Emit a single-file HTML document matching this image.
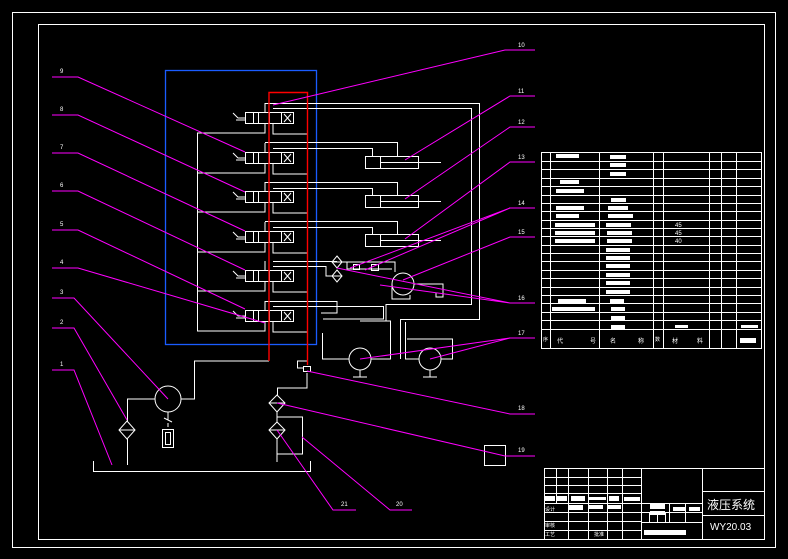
<!DOCTYPE html>
<html><head><meta charset="utf-8"><style>
html,body{margin:0;padding:0;background:#000;}
svg{display:block;}
text{font-family:"Liberation Sans","Noto Sans CJK SC",sans-serif;fill:#fff;}
</style></head><body>
<svg width="788" height="559" viewBox="0 0 788 559" xmlns="http://www.w3.org/2000/svg">
<rect width="788" height="559" fill="#000"/>
<g fill="none" stroke="#fff" stroke-width="1">
<rect x="12.5" y="12.5" width="763" height="535"/>
<rect x="38.5" y="24.5" width="726" height="515"/>
</g>
<!-- blue box -->
<rect x="165.5" y="70.5" width="151" height="274" fill="none" stroke="#1a5cff" stroke-width="1.3"/>
<!-- white circuit -->
<g fill="none" stroke="#fff" stroke-width="1">
<!-- valves -->
<g id="v">
<rect x="245.5" y="112.5" width="48" height="11"/>
<line x1="253.5" y1="112" x2="253.5" y2="123"/>
<line x1="258.5" y1="112" x2="258.5" y2="123"/>
<line x1="269.5" y1="112" x2="269.5" y2="123"/>
<line x1="281.5" y1="112" x2="281.5" y2="123"/>
<path d="M284 114 L291 122 M291 114 L284 122"/>
<path d="M233 113 L238 118 L245 118 M236 120 L245 120"/>
<path d="M265 123 L265 133 L197 133 M273 123 L273 134 L307 134 M265 112 L265 103"/>
</g>
<use href="#v" y="40"/><use href="#v" y="79"/><use href="#v" y="119"/><use href="#v" y="158"/><use href="#v" y="198"/>
<line x1="197.5" y1="133" x2="197.5" y2="331"/>
<!-- top supply to cylinders -->
<path d="M265 103.5 H479.5 V319.5 H400.5 V359"/>
<path d="M273 108.5 H471.5 V304.5 H386 V321 H360"/>
<path d="M265 142.5 H397.5 V156 M273 148.5 H372.5 V156"/>
<path d="M265 182.5 H397.5 V195 M273 188.5 H372.5 V195"/>
<path d="M265 221.5 H397.5 V234 M273 227.5 H372.5 V234"/>
<rect x="365.5" y="156.5" width="53" height="12"/><line x1="380.5" y1="156" x2="380.5" y2="168"/><line x1="380" y1="162.5" x2="441" y2="162.5"/>
<rect x="365.5" y="195.5" width="53" height="12"/><line x1="380.5" y1="195" x2="380.5" y2="207"/><line x1="380" y1="201.5" x2="441" y2="201.5"/>
<rect x="365.5" y="234.5" width="53" height="12"/><line x1="380.5" y1="234" x2="380.5" y2="246"/><line x1="380" y1="240.5" x2="441" y2="240.5"/>
<!-- valve 5 outputs -->
<path d="M273 261.5 H337 M273 266.5 H326 V276 H337"/>
<path d="M337 256 L342 262 L337 268 L332 262 Z M332 262 H342"/>
<path d="M337 270 L342 276 L337 282 L332 276 Z M332 276 H342"/>
<path d="M342 262 H395 V272 M347 262 V269 H392"/>
<rect x="353.5" y="264.5" width="6" height="5"/><rect x="371.5" y="264.5" width="7" height="6"/>
<circle cx="403" cy="284" r="11"/>
<path d="M392 284 V299 H410 V295 M414 284 H443 V297 H436 V293"/>
<path d="M265 301.5 H337 V313 H321 M273 306.5 H383.5 V319 H323"/>
<!-- motors -->
<path d="M322.5 333 V359 H349 M371 359 H390.5 V321 H384"/>
<circle cx="360" cy="359" r="11"/><path d="M360 370 V377 M353 377 H367"/>
<path d="M405.5 322 V359 H419 M441 359 H452.5 V339 H407"/>
<circle cx="430" cy="359" r="11"/><path d="M430 370 V377 M423 377 H437"/>
<!-- pump and lower -->
<path d="M269 361 H194.5 V399 H181"/>
<circle cx="168" cy="399" r="13"/>
<path d="M155 399 H127.5 V421 M127.5 439 V465"/>
<path d="M127 421 L135 430 L127 439 L119 430 Z M119 430 H135"/>
<path d="M168 412 V420 M164 418 L172 422 M168 423 V427"/>
<rect x="162.5" y="429.5" width="11" height="18"/><rect x="165.5" y="432.5" width="5" height="12"/>
<path d="M93.5 461 V471.5 H310.5 V461"/>
<!-- right lower -->
<path d="M307 361 H297.5 V368 H303 M307 373 V388 H277.5 V395"/>
<rect x="303.5" y="366.5" width="7" height="5"/>
<path d="M277 395 L285 403 L277 412 L269 403 Z M269 403 H285"/>
<path d="M277 412 V422 M277 417 H302.5 V454 H277"/>
<path d="M277 422 L285 430 L277 439 L269 430 Z M269 430 H285"/>
<path d="M277 439 V462"/>
<rect x="484.5" y="445.5" width="21" height="20"/>
</g>
<!-- red -->
<path d="M269 361 V92.5 H307.5 V365" fill="none" stroke="#f00" stroke-width="1.4"/>
<!-- magenta leaders -->
<g fill="none" stroke="#f0f" stroke-width="1">
<path d="M52 77 H78 L245 152"/>
<path d="M52 115 H78 L245 192"/>
<path d="M52 153 H78 L245 231"/>
<path d="M52 191 H78 L245 270"/>
<path d="M52 230 H78 L245 309"/>
<path d="M52 268 H78 L265 323"/>
<path d="M52 298 H74 L168 399"/>
<path d="M52 328 H74 L127 420"/>
<path d="M52 370 H74 L112 465"/>
<path d="M535 50 H505 L273 105"/>
<path d="M535 96 H510 L405 160"/>
<path d="M535 127 H510 L405 199"/>
<path d="M535 162 H510 L405 239"/>
<path d="M535 208 H510 L350 268 M510 208 L365 270"/>
<path d="M535 237 H510 L403 280"/>
<path d="M535 303 H510 L337 268 M510 303 L380 285"/>
<path d="M535 338 H510 L360 359 M510 338 L430 359"/>
<path d="M535 414 H510 L307 371"/>
<path d="M535 456 H505 L277 403"/>
<path d="M356 510 H333 L277 430"/>
<path d="M412 510 H390 L302 437"/>
</g>
<g font-size="6">
<text x="60" y="73">9</text><text x="60" y="111">8</text><text x="60" y="149">7</text><text x="60" y="187">6</text><text x="60" y="226">5</text><text x="60" y="264">4</text><text x="60" y="294">3</text><text x="60" y="324">2</text><text x="60" y="366">1</text>
<text x="518" y="47">10</text><text x="518" y="93">11</text><text x="518" y="124">12</text><text x="518" y="159">13</text><text x="518" y="205">14</text><text x="518" y="234">15</text><text x="518" y="300">16</text><text x="518" y="335">17</text><text x="518" y="410">18</text><text x="518" y="452">19</text><text x="396" y="506">20</text><text x="341" y="506">21</text>
</g>
<!-- parts table -->
<g fill="none" stroke="#fff" stroke-width="1">
<rect x="541.5" y="152.5" width="220" height="196"/>
<path d="M550.5 152V348 M599.5 152V348 M653.5 152V348 M663.5 152V348 M709.5 152V348 M721.5 152V348 M736.5 152V348"/>
<path d="M541 161.5H762 M541 169.5H762 M541 178.5H762 M541 186.5H762 M541 195.5H762 M541 203.5H762 M541 211.5H762 M541 220.5H762 M541 228.5H762 M541 236.5H762 M541 245.5H762 M541 253.5H762 M541 261.5H762 M541 270.5H762 M541 278.5H762 M541 287.5H762 M541 295.5H762 M541 303.5H762 M541 312.5H762 M541 320.5H762 M541 329.5H762"/>
</g>
<g fill="#fff">
<rect x="556" y="154" width="23" height="4"/><rect x="610" y="155" width="16" height="4"/>
<rect x="610" y="163" width="16" height="4"/><rect x="610" y="172" width="16" height="4"/>
<rect x="560" y="180" width="19" height="4"/><rect x="556" y="189" width="28" height="4"/><rect x="611" y="198" width="15" height="4"/>
<rect x="556" y="206" width="28" height="4"/><rect x="608" y="206" width="20" height="4"/><rect x="556" y="214" width="23" height="4"/><rect x="608" y="214" width="25" height="4"/>
<rect x="555" y="223" width="40" height="4"/><rect x="606" y="223" width="25" height="4"/><rect x="555" y="231" width="40" height="4"/><rect x="607" y="231" width="25" height="4"/><rect x="555" y="239" width="40" height="4"/><rect x="607" y="239" width="25" height="4"/>
<rect x="606" y="248" width="24" height="4"/><rect x="606" y="256" width="24" height="4"/><rect x="606" y="264" width="24" height="4"/><rect x="606" y="273" width="24" height="4"/><rect x="606" y="281" width="24" height="4"/><rect x="606" y="290" width="24" height="4"/>
<rect x="558" y="299" width="28" height="4"/><rect x="610" y="299" width="14" height="4"/><rect x="552" y="307" width="43" height="4"/><rect x="611" y="307" width="14" height="4"/>
<rect x="611" y="316" width="14" height="4"/><rect x="611" y="325" width="14" height="4"/><rect x="675" y="325" width="13" height="3"/><rect x="741" y="325" width="17" height="3"/>
<rect x="740" y="338" width="16" height="5"/>
</g>
<g font-size="6">
<text x="675" y="227">45</text><text x="675" y="235">45</text><text x="675" y="243">40</text>
<text x="557" y="343">代</text><text x="590" y="343">号</text><text x="610" y="343">名</text><text x="638" y="343">称</text><text x="672" y="343">材</text><text x="697" y="343">料</text>
<text x="543" y="341" font-size="5">序</text><text x="655" y="341" font-size="5">数</text>
</g>
<!-- title block -->
<g fill="none" stroke="#fff" stroke-width="1">
<rect x="544.5" y="468.5" width="220" height="71"/>
<path d="M641.5 468V540 M702.5 468V540 M702 491.5H765 M702 515.5H765"/>
<path d="M544 477.5H641 M544 485.5H641 M544 493.5H641 M544 503.5H641 M544 512.5H641 M544 521.5H641 M544 530.5H641"/>
<path d="M556.5 468V503 M568.5 468V540 M588.5 468V540 M607.5 468V540 M622.5 468V540"/>
<path d="M641 503.5H702 M641 512.5H702 M641 522.5H702 M669.5 503V522 M685.5 503V522 M649.5 512V522 M657.5 512V522 M665.5 512V522"/>
</g>
<g fill="#fff">
<rect x="545" y="496" width="10" height="5"/><rect x="557" y="496" width="10" height="5"/><rect x="571" y="496" width="14" height="5"/><rect x="589" y="497" width="17" height="3"/><rect x="609" y="496" width="10" height="5"/><rect x="624" y="497" width="16" height="4"/>
<rect x="569" y="505" width="14" height="5"/><rect x="589" y="505" width="14" height="4"/><rect x="607" y="505" width="14" height="4"/>
<rect x="650" y="504" width="15" height="5"/><rect x="650" y="511" width="15" height="4"/><rect x="673" y="507" width="13" height="4"/><rect x="689" y="507" width="11" height="4"/><rect x="644" y="530" width="42" height="5"/>
</g>
<g font-size="5"><text x="545" y="511">设计</text><text x="545" y="527">审核</text><text x="545" y="536">工艺</text><text x="594" y="536">批准</text></g>
<text x="707" y="509" font-size="12">液压系统</text>
<text x="710" y="530" font-size="10" font-family="Liberation Mono">WY20.03</text>
</svg>
</body></html>
